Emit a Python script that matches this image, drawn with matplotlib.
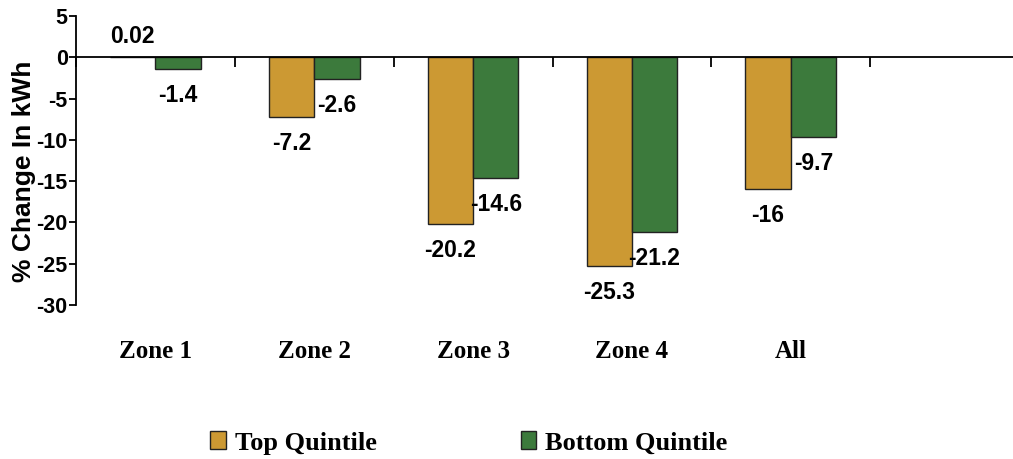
import matplotlib
matplotlib.use("Agg")
import matplotlib.pyplot as plt
import matplotlib.transforms as mtransforms
from matplotlib.patches import Patch
import numpy as np

categories = ["Zone 1", "Zone 2", "Zone 3", "Zone 4", "All"]
top_quintile = [0.02, -7.2, -20.2, -25.3, -16]
bottom_quintile = [-1.4, -2.6, -14.6, -21.2, -9.7]
series_names = ["Top Quintile", "Bottom Quintile"]
y_ticks = [5, 0, -5, -10, -15, -20, -25, -30]

GOLD = "#CC9933"
GREEN = "#3C7A3C"

W, H = 1013, 459
fig = plt.figure(figsize=(W / 100, H / 100), dpi=100)

# axes spans six category slots; the last slot runs off the right edge
left_px, right_px, top_px, bottom_px = 76, 1029, 16, 305
ax = fig.add_axes([left_px / W, 1 - bottom_px / H,
                   (right_px - left_px) / W, (bottom_px - top_px) / H])
ax.set_ylim(-30, 5)
ax.set_xlim(-0.5, 5.5)

x = np.arange(len(categories))
bw = 0.285
bars_top = ax.bar(x - bw / 2, top_quintile, bw, color=GOLD,
                  edgecolor="#222222", linewidth=1.0, zorder=2)
bars_bot = ax.bar(x + bw / 2, bottom_quintile, bw, color=GREEN,
                  edgecolor="#222222", linewidth=1.0, zorder=2)

value_font = dict(family="Liberation Sans", weight="bold", fontsize=16.5)
for bars, vals in ((bars_top, top_quintile), (bars_bot, bottom_quintile)):
    for b, v in zip(bars, vals):
        cx = b.get_x() + b.get_width() / 2
        off = 14.5 if v > 0 else -19
        ax.annotate(f"{v:g}", xy=(cx, v), xytext=(0, off),
                    textcoords="offset points", ha="center", va="center",
                    **value_font)

# spines: left axis plus a zero line carrying the category ticks
for s in ("top", "right"):
    ax.spines[s].set_visible(False)
ax.spines["bottom"].set_position(("data", 0))
ax.spines["bottom"].set_linewidth(1.3)
ax.spines["left"].set_linewidth(1.3)
ax.spines["bottom"].set_zorder(3)

ax.set_yticks(y_ticks)
ax.set_yticklabels([str(t) for t in y_ticks], family="Liberation Sans",
                   weight="bold", fontsize=15.5)
ax.tick_params(axis="y", direction="out", length=5, width=1.3, pad=1)
ax.set_xticks(np.arange(-0.5, 6.0, 1.0))
ax.tick_params(axis="x", direction="out", length=7, width=1.3,
               labelbottom=False)

trans = mtransforms.blended_transform_factory(ax.transData, ax.transAxes)
for xi, name in zip(x, categories):
    ax.text(xi, (bottom_px - 351) / (bottom_px - top_px), name,
            transform=trans, ha="center", va="center",
            family="Liberation Serif", weight="bold", fontsize=18)

fig.text(24 / W, 1 - 171 / H, "% Change In kWh", rotation=90,
         ha="center", va="center", family="Liberation Sans",
         weight="bold", fontsize=19)

handles = [Patch(facecolor=GOLD, edgecolor="#222222"),
           Patch(facecolor=GREEN, edgecolor="#222222")]
fig.legend(handles, series_names, loc="center left",
           bbox_to_anchor=(210 / W, 1 - 443 / H), ncol=2, frameon=False,
           prop=dict(family="Liberation Serif", weight="bold", size=19),
           handlelength=0.6, handleheight=0.68, handletextpad=0.34,
           columnspacing=5.45, borderpad=0, borderaxespad=0)

fig.savefig("out.png", dpi=100)
